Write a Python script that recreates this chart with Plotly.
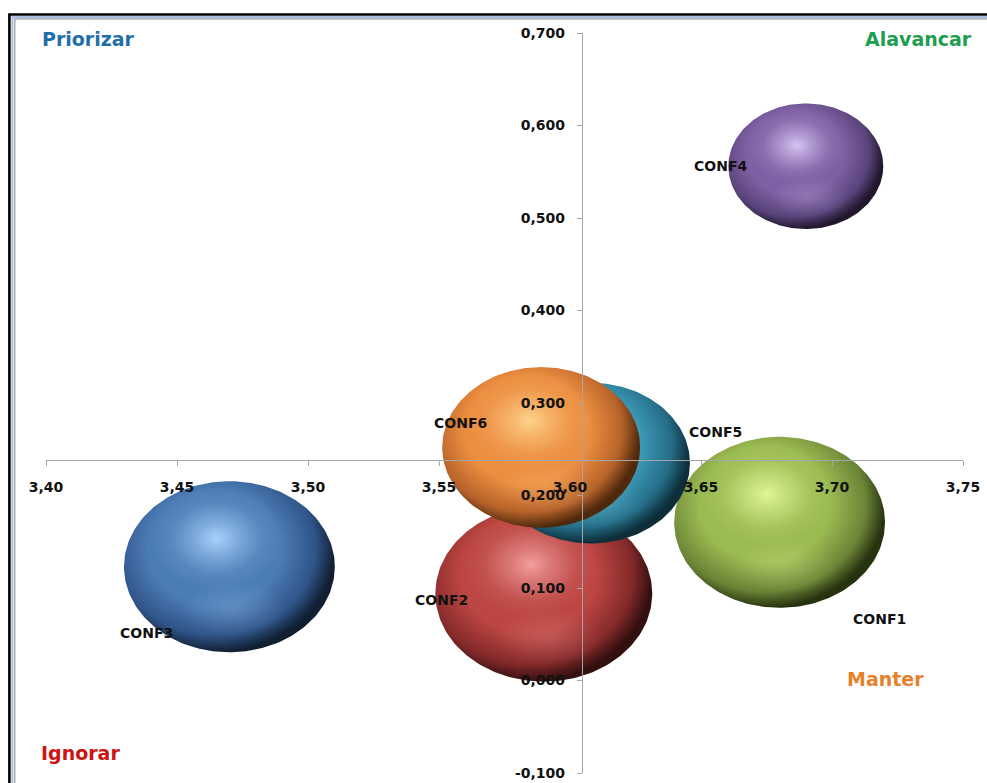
import numpy as np
import plotly.graph_objects as go

# --- data -------------------------------------------------------------
nomes = ["CONF1", "CONF2", "CONF3", "CONF4", "CONF5", "CONF6"]
x_vals = [3.680, 3.590, 3.470, 3.690, 3.608, 3.589]
y_vals = [0.171, 0.094, 0.123, 0.556, 0.235, 0.252]
tamanho = [0.945, 1.000, 0.945, 0.510, 0.833, 0.833]   # bubble size (area)

x_ticks = [3.40, 3.45, 3.50, 3.55, 3.60, 3.65, 3.70, 3.75]
y_ticks = [-0.1, 0.0, 0.1, 0.2, 0.3, 0.4, 0.5, 0.6, 0.7]

quadrantes = ["Priorizar", "Alavancar", "Manter", "Ignorar"]

# --- style ------------------------------------------------------------
# (highlight, body, rim shade, dark edge) for each bubble
paleta = [
    ("#e4fb9c", "#9aba52", "#6a8436", "#27330f"),
    ("#f4a3a3", "#bc4642", "#84292a", "#330f0f"),
    ("#acd6ff", "#4c7cb6", "#2f5488", "#111f33"),
    ("#dcc8f7", "#7e61a4", "#59437a", "#22172e"),
    ("#93e3f7", "#3e9bb8", "#246c86", "#0c2d39"),
    ("#ffd58f", "#ec8e40", "#b5622a", "#50290c"),
]
label_shift = [(100, -97), (-102, -6), (-83, -66), (-85, 0), (125, 31), (-81, 24)]

R_X = 0.0414   # half-width of the largest bubble, x units
R_Y = 0.0951   # half-height of the largest bubble, y units

# light source direction (fractions of the radii, towards upper left)
LX, LY = 0.14, 0.22

X_RANGE = [3.40, 3.75]
Y_RANGE = [-0.1, 0.7]

W, H = 987, 783
M_L, M_R, M_T, M_B = 46, 24, 33, 10
PW, PH = W - M_L - M_R, H - M_T - M_B


def px2paper(px, py):
    return (px - M_L) / PW, (H - M_B - py) / PH


def rgba(hexcol, a):
    h = hexcol.lstrip("#")
    r, g, b = int(h[0:2], 16), int(h[2:4], 16), int(h[4:6], 16)
    return f"rgba({r},{g},{b},{a})"


N = 240
t = np.linspace(0, 2 * np.pi, N + 1)


def ellipse(cx, cy, rx, ry, lx=0.0, ly=0.0):
    """Closed ellipse outline. lx/ly add zero-area spurs to the left/top
    so the radial fill gradient is centred towards the upper left."""
    xs = list(cx + rx * np.cos(t))
    ys = list(cy + ry * np.sin(t))
    if lx or ly:
        i_top, i_left = N // 4, N // 2
        # insert left spur first (higher index) so the top index stays valid
        xs[i_left:i_left + 1] = [xs[i_left], cx - rx * (1 + 2 * lx), xs[i_left]]
        ys[i_left:i_left + 1] = [ys[i_left], cy, ys[i_left]]
        xs[i_top:i_top + 1] = [xs[i_top], cx, xs[i_top]]
        ys[i_top:i_top + 1] = [ys[i_top], cy + ry * (1 + 2 * ly), ys[i_top]]
    return xs, ys


fig = go.Figure()

smax = max(tamanho)
for i, nome in enumerate(nomes):
    cx, cy = x_vals[i], y_vals[i]
    k = np.sqrt(tamanho[i] / smax)
    rx, ry = R_X * k, R_Y * k
    light, body, shade, dark = paleta[i]

    # sphere body, lit from the upper left
    bx, by = ellipse(cx, cy, rx, ry, LX, LY)
    fig.add_trace(go.Scatter(
        x=bx, y=by, mode="lines", fill="toself", line=dict(width=0),
        fillcolor=body,
        fillgradient=dict(type="radial", colorscale=[
            [0.0, body], [0.55, body], [0.84, shade], [1.0, dark]]),
        hoverinfo="skip", showlegend=False))

    # soft lower reflection
    rxs, rys = ellipse(cx + 0.05 * rx, cy - 0.5 * ry, 0.5 * rx, 0.33 * ry)
    fig.add_trace(go.Scatter(
        x=rxs, y=rys, mode="lines", fill="toself", line=dict(width=0),
        fillcolor=rgba(light, 0.0),
        fillgradient=dict(type="radial", colorscale=[
            [0.0, rgba(light, 0.22)], [1.0, rgba(light, 0.0)]]),
        hoverinfo="skip", showlegend=False))

    # specular highlight, upper left
    hx, hy = ellipse(cx - 0.12 * rx, cy + 0.33 * ry, 0.62 * rx, 0.6 * ry)
    fig.add_trace(go.Scatter(
        x=hx, y=hy, mode="lines", fill="toself", line=dict(width=0),
        fillcolor=rgba(light, 0.0),
        fillgradient=dict(type="radial", colorscale=[
            [0.0, rgba(light, 0.95)], [0.3, rgba(light, 0.55)],
            [0.7, rgba(light, 0.12)], [1.0, rgba(light, 0.0)]]),
        hoverinfo="skip", showlegend=False))

# bubble centres (hover)
fig.add_trace(go.Scatter(
    x=x_vals, y=y_vals, mode="markers", text=nomes,
    marker=dict(size=10, opacity=0),
    hovertemplate="%{text}<br>%{x:.3f}; %{y:.3f}<extra></extra>",
    showlegend=False))

# series labels
annotations = []
for i, nome in enumerate(nomes):
    annotations.append(dict(
        x=x_vals[i], y=y_vals[i], xref="x", yref="y", text=nome,
        showarrow=False, xshift=label_shift[i][0], yshift=label_shift[i][1],
        font=dict(family="DejaVu Sans", size=14, color="#111111", weight="bold")))

# quadrant names
quad_pos = [(88, 39), (918, 39), (885, 679), (80, 753)]
quad_col = ["#1f6fab", "#1f9e4f", "#e8802b", "#cc1414"]
for nome, (px, py), col in zip(quadrantes, quad_pos, quad_col):
    xp, yp = px2paper(px, py)
    annotations.append(dict(
        x=xp, y=yp, xref="paper", yref="paper", text=nome, showarrow=False,
        xanchor="center", yanchor="middle",
        font=dict(family="DejaVu Sans", size=19, color=col, weight="bold")))

# frame around the chart
shapes = []
for (px, py, col, lw) in [(9.4, 14.5, "#000000", 2.6),
                          (12.4, 16.9, "#a9c1e8", 2.0),
                          (14.8, 18.9, "#9a9a9a", 1.2)]:
    x0, y1 = px2paper(px, py)
    shapes.append(dict(type="rect", xref="paper", yref="paper",
                       x0=x0, x1=1.2, y0=-0.2, y1=y1,
                       line=dict(color=col, width=lw), layer="above"))

# axes cross at the mean of the data
x_cross = float(np.mean(x_vals))
y_cross = float(np.mean(y_vals))
pos_x_axis = (y_cross - Y_RANGE[0]) / (Y_RANGE[1] - Y_RANGE[0])
pos_y_axis = (x_cross - X_RANGE[0]) / (X_RANGE[1] - X_RANGE[0])

tick_font = dict(family="DejaVu Sans", size=14, color="#111111", weight="bold")
axis_col = "#a6a6a6"

fig.update_layout(
    width=W, height=H,
    margin=dict(l=M_L, r=M_R, t=M_T, b=M_B, autoexpand=False),
    paper_bgcolor="white", plot_bgcolor="white",
    xaxis=dict(range=X_RANGE, anchor="free", position=pos_x_axis,
               tickvals=x_ticks,
               ticktext=[f"{v:.2f}".replace(".", ",") for v in x_ticks],
               showline=True, linecolor=axis_col, linewidth=1,
               ticks="outside", ticklen=5, tickcolor=axis_col,
               showgrid=False, zeroline=False, tickfont=tick_font,
               ticklabelstandoff=9, fixedrange=True, automargin=False),
    yaxis=dict(range=Y_RANGE, anchor="free", position=pos_y_axis,
               tickvals=y_ticks,
               ticktext=[f"{v:.3f}".replace(".", ",") for v in y_ticks],
               showline=True, linecolor=axis_col, linewidth=1,
               ticks="outside", ticklen=5, tickcolor=axis_col,
               showgrid=False, zeroline=False, tickfont=tick_font,
               ticklabelstandoff=9, fixedrange=True, automargin=False),
    annotations=annotations,
    shapes=shapes,
)

fig.write_html("out.html")
